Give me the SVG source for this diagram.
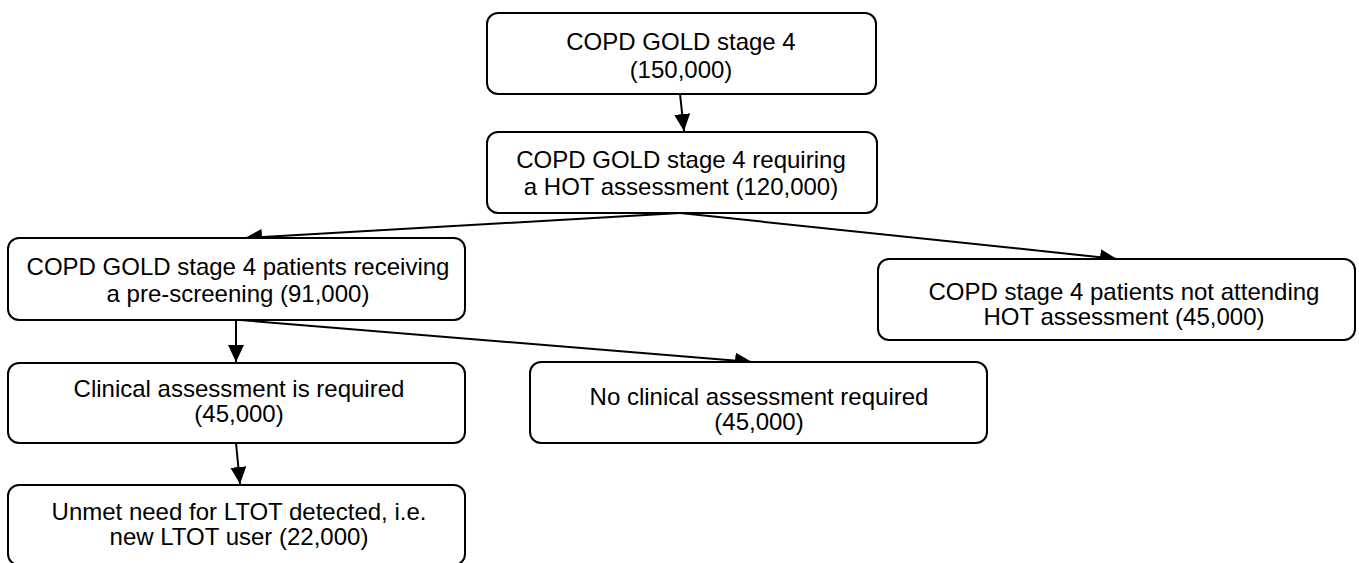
<svg xmlns="http://www.w3.org/2000/svg" width="1359" height="563" viewBox="0 0 1359 563">
<style>
.box{fill:#fff;stroke:#000;stroke-width:2}
.t{font-family:"Liberation Sans",Arial,sans-serif;font-size:24px;fill:#000;text-anchor:middle}
.c{stroke:#000;stroke-width:2;fill:none;marker-end:url(#ah)}
</style>
<defs>
<marker id="ah" markerUnits="userSpaceOnUse" markerWidth="18" markerHeight="16" refX="17" refY="8" orient="auto">
<path d="M0,0 L17,8 L0,16 z" fill="#000"/>
</marker>
</defs>
<rect width="1359" height="563" fill="#fff"/>
<g id="connectors">
<line class="c" x1="680" y1="94" x2="684" y2="131"/>
<line class="c" x1="680" y1="213" x2="245" y2="238"/>
<line class="c" x1="680" y1="213" x2="1117" y2="259"/>
<line class="c" x1="236" y1="320" x2="236" y2="362"/>
<line class="c" x1="240" y1="320" x2="752" y2="362"/>
<line class="c" x1="236" y1="443" x2="240" y2="484"/>
</g>
<g id="n1">
<rect class="box" x="487" y="13" width="389" height="81" rx="11"/>
<text class="t" x="681" y="50">COPD GOLD stage 4</text>
<text class="t" x="681" y="78">(150,000)</text>
</g>
<g id="n2">
<rect class="box" x="487" y="132" width="390" height="81" rx="11"/>
<text class="t" x="681" y="168">COPD GOLD stage 4 requiring</text>
<text class="t" x="681" y="195">a HOT assessment (120,000)</text>
</g>
<g id="n3">
<rect class="box" x="8" y="238" width="457" height="82" rx="11"/>
<text class="t" x="238" y="275">COPD GOLD stage 4 patients receiving</text>
<text class="t" x="238" y="302">a pre-screening (91,000)</text>
</g>
<g id="n4">
<rect class="box" x="878" y="259" width="477" height="81" rx="11"/>
<text class="t" x="1124" y="300">COPD stage 4 patients not attending</text>
<text class="t" x="1124" y="325">HOT assessment (45,000)</text>
</g>
<g id="n5">
<rect class="box" x="530" y="362" width="457" height="81" rx="11"/>
<text class="t" x="759" y="405">No clinical assessment required</text>
<text class="t" x="759" y="430">(45,000)</text>
</g>
<g id="n6">
<rect class="box" x="8" y="363" width="457" height="80" rx="11"/>
<text class="t" x="239" y="397">Clinical assessment is required</text>
<text class="t" x="239" y="422">(45,000)</text>
</g>
<g id="n7">
<rect class="box" x="8" y="485" width="457" height="80" rx="11"/>
<text class="t" x="239" y="520">Unmet need for LTOT detected, i.e.</text>
<text class="t" x="239" y="545">new LTOT user (22,000)</text>
</g>
</svg>
